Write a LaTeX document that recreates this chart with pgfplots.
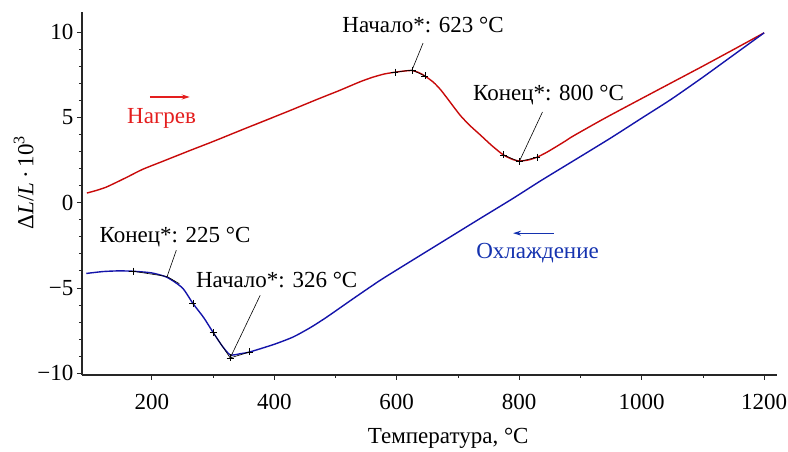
\documentclass[border=0pt]{standalone}
\usepackage{fontspec}
\setmainfont{Liberation Serif}
\usepackage{pgfplots}
\pgfplotsset{compat=1.18}
\usetikzlibrary{arrows.meta}
\definecolor{redline}{RGB}{200,10,10}
\definecolor{redtext}{RGB}{228,30,30}
\definecolor{blueline}{RGB}{20,20,170}
\definecolor{bluetext}{RGB}{20,50,175}
\newcommand{\fs}{\fontsize{23}{27}\selectfont}
\begin{document}
\begin{tikzpicture}[font=\fs]
\useasboundingbox (0,0) rectangle (788pt,452pt);
\begin{axis}[
  at={(82pt,77pt)}, anchor=south west,
  scale only axis, width=695pt, height=363pt,
  xmin=86, xmax=1221, ymin=-10.1, ymax=11.17,
  axis lines=left,
  axis line style={-, line width=1.1pt, black!85},
  xtick={200,400,600,800,1000,1200},
  ytick={-10,-5,0,5,10},
  yticklabels={−10,−5,0,5,10},
  minor x tick num=1, minor y tick num=4,
  tick align=outside,
  major tick length=5pt, minor tick length=3pt,
  tick style={line width=0.8pt, black!85},
  tick label style={font=\fs},
  xticklabel style={yshift=-11pt},
  /pgf/number format/assume math mode=true,
  /pgf/number format/1000 sep={},
  label style={font=\fs},
  xlabel={Температура, °C},
  ylabel={Δ\textit{L}/\textit{L}\,·\,10\textsuperscript{3}},
  xlabel style={at={(axis description cs:0.527,-0.175)}, anchor=center},
  ylabel style={at={(axis description cs:-0.084,0.53)}, anchor=center},
  clip=false,
]
% Heating (red)
\addplot[redline, line width=1.4pt, smooth, tension=0.4] coordinates {
(94,0.56) (110,0.72) (125,0.90) (140,1.15) (160,1.50) (185,1.95) (220,2.45)
(262,3.05) (300,3.58) (344,4.22) (390,4.88) (426,5.40) (470,6.05) (507,6.58)
(540,7.08) (561,7.35) (580,7.54) (597,7.64) (612,7.71) (625,7.74) (636,7.62)
(646,7.42) (660,7.05) (672,6.6) (688,5.85) (704,5.1) (720,4.5) (736,3.98)
(755,3.35) (774,2.8) (790,2.52) (801,2.44) (815,2.50) (829,2.66) (845,2.95)
(860,3.27) (875,3.6) (889,3.92) (940,4.95) (1000,6.1) (1050,7.05) (1100,8.0)
(1150,8.97) (1200,9.95)
};
% Cooling (blue)
\addplot[blueline, line width=1.4pt, smooth, tension=0.4] coordinates {
(93,-4.15) (120,-4.04) (145,-4.0) (169,-4.02) (200,-4.12) (225,-4.38) (250,-5.0)
(267,-5.9) (285,-6.75) (300,-7.6) (315,-8.4) (328,-8.92) (345,-8.85) (360,-8.75)
(400,-8.3) (431,-7.87) (460,-7.3) (486,-6.7) (530,-5.6) (573,-4.55) (620,-3.5)
(672,-2.35) (733,-1.0) (790,0.25) (836,1.3) (900,2.7) (950,3.8) (1000,4.95)
(1048,6.05) (1100,7.35) (1150,8.65) (1200,9.95)
};
% tangent segments and marks (black)
\addplot[black, line width=0.6pt, mark=+, mark size=3.5pt, mark options={line width=0.6pt}] coordinates {(597,7.64) (625,7.77) (646,7.42)};
\addplot[black, line width=0.6pt, mark=+, mark size=3.5pt, mark options={line width=0.6pt}] coordinates {(774,2.8) (800,2.40) (829,2.66)};
\addplot[black, line width=0.6pt, mark=+, mark size=3.5pt, mark options={line width=0.6pt}] coordinates {(300,-7.6) (328,-9.1) (360,-8.75)};
\addplot[black, only marks, mark=+, mark size=3.5pt, mark options={line width=0.6pt}] coordinates {(169,-4.02) (267,-5.9)};
\addplot[black, line width=0.6pt] coordinates {(169,-4.02) (225,-4.33) (245,-4.75)};
% leader lines
\addplot[black, line width=0.6pt] coordinates {(643,9.35) (625,7.77)};
\addplot[black, line width=0.6pt] coordinates {(838,5.31) (800,2.40)};
\addplot[black, line width=0.6pt] coordinates {(240,-2.79) (225,-4.33)};
\addplot[black, line width=0.6pt] coordinates {(377,-5.43) (328,-9.1)};
% texts
\node at (axis cs:643,10.41) {Начало*: 623 °C};
\node at (axis cs:848,6.3) {Конец*: 800 °C};
\node at (axis cs:238,-2.02) {Конец*: 225 °C};
\node at (axis cs:404,-4.55) {Начало*: 326 °C};
\node[text=redtext] at (axis cs:216,4.94) {Нагрев};
\node[text=bluetext] at (axis cs:830,-2.96) {Охлаждение};
\draw[redtext, line width=1.2pt, -{Stealth[length=8pt,width=5pt]}] (axis cs:197,6.19) -- (axis cs:262,6.19);
\draw[bluetext, line width=1.2pt, -{Stealth[length=8pt,width=5pt]}] (axis cs:856,-1.79) -- (axis cs:790,-1.79);
\end{axis}
\end{tikzpicture}
\end{document}
